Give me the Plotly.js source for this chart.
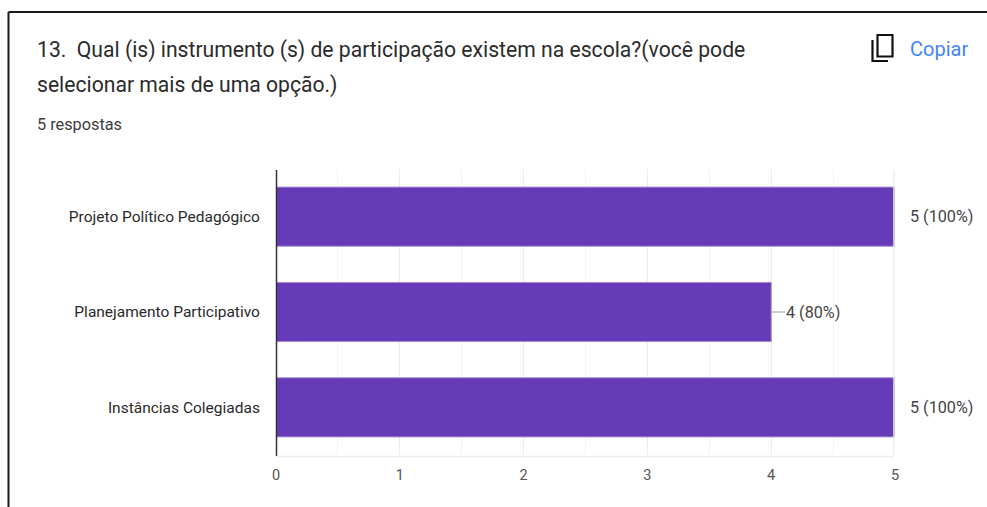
<!DOCTYPE html>
<html>
<head>
<meta charset="utf-8">
<script src="https://cdn.plot.ly/plotly-3.0.1.min.js"></script>
<style>
html,body{margin:0;padding:0;background:#fff;overflow:hidden}
#chart{width:987px;height:507px}
</style>
</head>
<body>
<div id="chart"></div>
<script>
// Survey question 13: participation instruments at the school
const categories = ["Projeto Político Pedagógico", "Planejamento Participativo", "Instâncias Colegiadas"];
const responses = [5, 4, 5];
const percents = [100, 80, 100];
const xTicks = [0, 1, 2, 3, 4, 5];
const questionLines = [
  "13.  Qual (is) instrumento (s) de participação existem na escola?(você pode",
  "selecionar mais de uma opção.)"
];
const answerCount = "5 respostas";
const copyLabel = "Copiar";

const W = 987, H = 507;
const M = {l: 276, r: 92, t: 169, b: 52};
const plotW = W - M.l - M.r, plotH = H - M.t - M.b;
// Convert page pixels to paper coordinates for the header and frame
const px = x => (x - M.l) / plotW;
const py = y => 1 - (y - M.t) / plotH;

const font = "Roboto, Arial, sans-serif";

const pageText = (text, x, y, size, color, anchor) => ({
  text, x: px(x), y: py(y), xref: "paper", yref: "paper",
  xanchor: anchor || "left", yanchor: "middle", showarrow: false,
  font: {family: font, size, color}
});

const valueLabels = responses.map((v, i) => ({
  text: `${v} (${percents[i]}%)`,
  x: v, y: categories[i], xref: "x", yref: "y",
  xanchor: "left", yanchor: "middle", xshift: 13, showarrow: false,
  font: {family: font, size: 16.2, color: "#444444"}
}));

const lineShape = (x0, y0, x1, y1, width, color) => ({
  type: "line", xref: "paper", yref: "paper",
  x0: px(x0), y0: py(y0), x1: px(x1), y1: py(y1),
  line: {color, width}
});

// Short connector from each bar end toward its label
const leaders = responses.map((v, i) => ({
  type: "line", xref: "x", yref: "y",
  xsizemode: "pixel", xanchor: v,
  x0: 0, x1: v < 5 ? 14 : 3,
  y0: categories[i], y1: categories[i],
  line: {color: "#9e9e9e", width: 1}
}));

// Copy icon: rounded sheet with an L-shaped sheet behind it
const iconShapes = [
  {type: "rect", xref: "paper", yref: "paper",
   x0: px(877.5), x1: px(892.5), y0: py(35), y1: py(56.5),
   line: {color: "#111111", width: 2.2}},
  {type: "path", xref: "paper", yref: "paper",
   path: `M ${px(872.5)} ${py(40)} L ${px(872.5)} ${py(61)} L ${px(888)} ${py(61)}`,
   line: {color: "#111111", width: 2.2}}
];

const trace = {
  type: "bar",
  orientation: "h",
  y: categories,
  x: responses,
  width: 0.62,
  marker: {color: "#673ab7", line: {color: "#a58cd6", width: 1}},
  hoverinfo: "skip"
};

const layout = {
  width: W, height: H,
  margin: {l: M.l, r: M.r, t: M.t, b: M.b, pad: 0},
  paper_bgcolor: "#ffffff",
  plot_bgcolor: "#ffffff",
  showlegend: false,
  xaxis: {
    range: [0, 5], tickvals: xTicks, ticks: "outside", ticklen: 7, tickcolor: "rgba(0,0,0,0)",
    showline: false, gridcolor: "#ececec", gridwidth: 1, zeroline: false,
    minor: {dtick: 0.5, tick0: 0, showgrid: true, gridcolor: "#f3f3f3", gridwidth: 1, ticks: ""},
    tickfont: {family: font, size: 14.5, color: "#555555"}
  },
  yaxis: {
    autorange: "reversed", type: "category", categoryorder: "array",
    categoryarray: categories, ticks: "outside", ticklen: 12, tickcolor: "rgba(0,0,0,0)",
    showgrid: false, zeroline: false, showline: false,
    tickfont: {family: font, size: 15.5, color: "#2a2a2a"}
  },
  annotations: [
    pageText(questionLines[0], 35, 50, 21.15, "#2b2b2b"),
    pageText(questionLines[1], 35, 85, 21.15, "#2b2b2b"),
    pageText(answerCount, 35, 124, 16.3, "#3c3c3c"),
    pageText(copyLabel, 908, 49, 20, "#4285f4"),
    ...valueLabels
  ],
  shapes: [
    lineShape(8.5, 12, 987, 12, 2, "#1a1a1a"),
    lineShape(8.5, 12, 8.5, 507, 2, "#1a1a1a"),
    lineShape(276.5, 170, 276.5, 456, 1.5, "#333333"),
    lineShape(276.5, 456.5, 894, 456.5, 1.5, "#eeeeee"),
    lineShape(894, 170, 894, 456, 1.5, "#eeeeee"),
    ...leaders,
    ...iconShapes
  ]
};

Plotly.newPlot("chart", [trace], layout, {displayModeBar: false, staticPlot: true});
</script>
</body>
</html>
